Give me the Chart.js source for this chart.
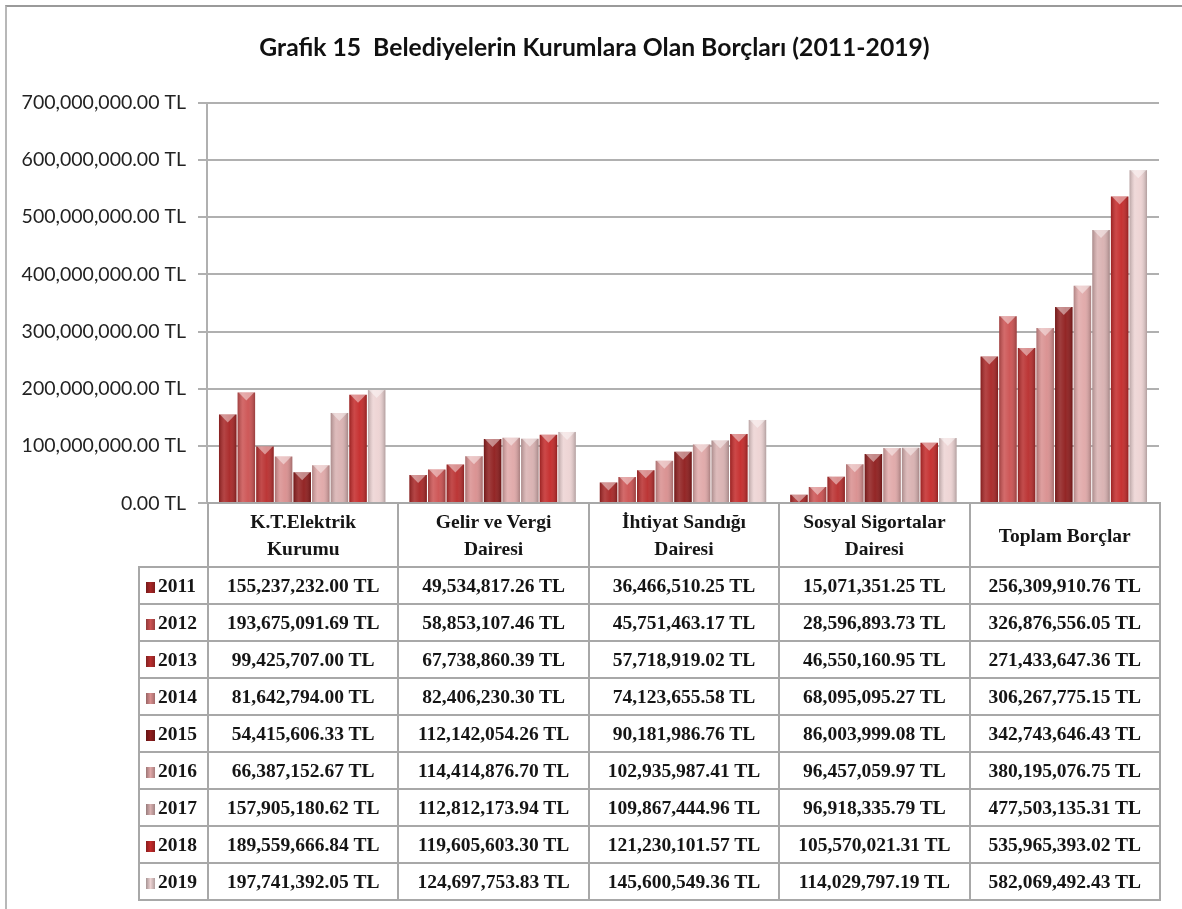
<!DOCTYPE html>
<html>
<head>
<meta charset="utf-8">
<script src="https://cdn.jsdelivr.net/npm/chart.js"></script>
<style>
    body { margin: 0; background: #fff; }
    #wrap { position: relative; width: 1182px; height: 909px; overflow: hidden; }
    #frame { position: absolute; left: 5px; top: 5px; width: 1200px; height: 920px;
             border-top: 2px solid #9a9a9a; border-left: 2px solid #b8b8b8; }
    canvas { position: absolute; left: 0; top: 0; }
    #tbl { position: absolute; left: 138px; top: 502px; width: 1021px;
           border-collapse: collapse; table-layout: fixed;
           font-family: "Liberation Serif", "Times New Roman", serif; font-weight: bold;
           font-size: 19.5px; color: #151515; }
    #tbl td { border: 2px solid #a8a8a8; text-align: center; padding: 0; white-space: nowrap; }
    #tbl tr.head td { height: 62px; line-height: 27px; }
    #tbl tr.head td.empty { border: none; }
    #tbl tr.row td { height: 35px; }
    #tbl td.yr { text-align: left; padding-left: 6px; }
    .mk { display: inline-block; width: 9px; height: 11px; margin-right: 3px; vertical-align: -1px; }
</style>
</head>
<body>
<div id="wrap">
    <div id="frame"></div>
    <canvas id="borcChart" width="1182" height="527"></canvas>
    <table id="tbl"></table>
</div>
<script>
// Kategoriler ve yillar
const categories = [
    ['K.T.Elektrik', 'Kurumu'],
    ['Gelir ve Vergi', 'Dairesi'],
    ['İhtiyat Sandığı', 'Dairesi'],
    ['Sosyal Sigortalar', 'Dairesi'],
    ['Toplam Borçlar']
];
const years = ['2011', '2012', '2013', '2014', '2015', '2016', '2017', '2018', '2019'];

// Borclar (TL) - her yil icin bir dizi
const v2011 = [155237232.00, 49534817.26, 36466510.25, 15071351.25, 256309910.76];
const v2012 = [193675091.69, 58853107.46, 45751463.17, 28596893.73, 326876556.05];
const v2013 = [99425707.00, 67738860.39, 57718919.02, 46550160.95, 271433647.36];
const v2014 = [81642794.00, 82406230.30, 74123655.58, 68095095.27, 306267775.15];
const v2015 = [54415606.33, 112142054.26, 90181986.76, 86003999.08, 342743646.43];
const v2016 = [66387152.67, 114414876.70, 102935987.41, 96457059.97, 380195076.75];
const v2017 = [157905180.62, 112812173.94, 109867444.96, 96918335.79, 477503135.31];
const v2018 = [189559666.84, 119605603.30, 121230101.57, 105570021.31, 535965393.02];
const v2019 = [197741392.05, 124697753.83, 145600549.36, 114029797.19, 582069492.43];
const seriesValues = [v2011, v2012, v2013, v2014, v2015, v2016, v2017, v2018, v2019];

// Eksen degerleri
const yTicks = [0, 100000000, 200000000, 300000000, 400000000, 500000000, 600000000, 700000000];

const colors = ['#a82626', '#cc5252', '#b92e2e', '#d98f8f', '#8f1d1d',
                '#e0a8a8', '#d9b1b1', '#c42a2a', '#edd3d3'];

function tl(v) {
    return v.toLocaleString('en-US', { minimumFractionDigits: 2, maximumFractionDigits: 2 }) + ' TL';
}

// Cubuklara 3B gorunum veren eklenti
const bevel = {
    id: 'bevel',
    afterLayout(chart) {
        // basligi biraz saga kaydir
        if (chart.titleBlock) chart.titleBlock.left += 30;
    },
    afterDatasetsDraw(chart) {
        const ctx = chart.ctx;
        chart.data.datasets.forEach((ds, i) => {
            chart.getDatasetMeta(i).data.forEach(bar => {
                const left = bar.x - bar.width / 2;
                const w = bar.width;
                const h = bar.base - bar.y;
                const g = ctx.createLinearGradient(left, 0, left + w, 0);
                g.addColorStop(0, 'rgba(0,0,0,0.22)');
                g.addColorStop(0.3, 'rgba(255,255,255,0.14)');
                g.addColorStop(0.6, 'rgba(255,255,255,0.04)');
                g.addColorStop(1, 'rgba(0,0,0,0.25)');
                ctx.save();
                ctx.fillStyle = g;
                ctx.fillRect(left, bar.y, w, h);
                ctx.beginPath();
                ctx.moveTo(left + 1, bar.y);
                ctx.lineTo(left + w - 1, bar.y);
                ctx.lineTo(bar.x, bar.y + Math.min(8, h));
                ctx.closePath();
                ctx.fillStyle = 'rgba(255,255,255,0.45)';
                ctx.fill();
                ctx.restore();
            });
        });
    }
};

const ctx = document.getElementById('borcChart').getContext('2d');

const borcChart = new Chart(ctx, {
    type: 'bar',
    data: {
        labels: categories,
        datasets: years.map((y, i) => ({
            label: y,
            data: seriesValues[i],
            backgroundColor: colors[i],
            borderWidth: 0,
            barPercentage: 0.94,
            categoryPercentage: 0.88
        }))
    },
    options: {
        responsive: false,
        animation: false,
        layout: { padding: { left: 0, right: 23, top: 0, bottom: 18 } },
        scales: {
            x: { display: false },
            y: {
                min: 0,
                max: 700000000,
                afterBuildTicks: s => { s.ticks = yTicks.map(v => ({ value: v })); },
                afterFit: s => { s.width = 207; },
                ticks: {
                    padding: 12,
                    color: '#222',
                    font: { family: 'Lato', size: 19.5 },
                    callback: v => tl(v)
                },
                grid: { color: '#b0b0b0', lineWidth: 2, tickLength: 9 },
                border: { color: '#b0b0b0', width: 2 }
            }
        },
        plugins: {
            legend: { display: false },
            tooltip: { enabled: false },
            title: {
                display: true,
                text: 'Grafik 15  Belediyelerin Kurumlara Olan Borçları (2011-2019)',
                color: '#111',
                font: { family: 'Lato', size: 24.7, weight: 'bold' },
                padding: { top: 33, bottom: 40 }
            }
        }
    },
    plugins: [bevel]
});

// Alt tablo
const tbl = document.getElementById('tbl');
let html = '<colgroup><col style="width:69px">' +
    categories.map(() => '<col style="width:190.4px">').join('') + '</colgroup>';
html += '<tr class="head"><td class="empty"></td>' +
    categories.map(c => '<td>' + c.join('<br>') + '</td>').join('') + '</tr>';
years.forEach((y, i) => {
    html += '<tr class="row"><td class="yr"><span class="mk" style="background:linear-gradient(to right,' +
        'rgba(0,0,0,0.3),' + colors[i] + ',rgba(0,0,0,0.25)),' + colors[i] + '"></span>' + y + '</td>' +
        seriesValues[i].map(v => '<td>' + tl(v) + '</td>').join('') + '</tr>';
});
tbl.innerHTML = html;
</script>
</body>
</html>
